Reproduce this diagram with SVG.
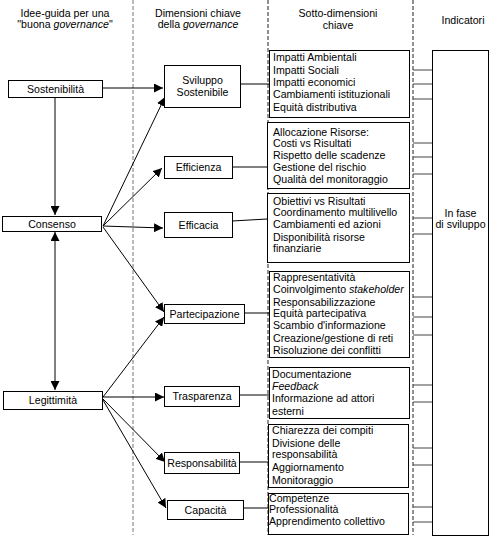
<svg xmlns="http://www.w3.org/2000/svg" width="492" height="537" viewBox="0 0 492 537">
<style>
text{font-family:"Liberation Sans",Arial,sans-serif;font-size:10.6px;fill:#000}
.c{text-anchor:middle}
.box{fill:#fff;stroke:#000;stroke-width:1}
.dash{stroke:#222;stroke-width:1;stroke-dasharray:4,2}
.con{stroke:#000;stroke-width:1;fill:none}
.ind{stroke:#444;stroke-width:1}
</style>
<defs>
<marker id="ah" viewBox="0 0 10 10" refX="10" refY="5" markerWidth="9" markerHeight="9" markerUnits="userSpaceOnUse" orient="auto-start-reverse">
<path d="M0,0 L10,5 L0,10 z" fill="#000"/>
</marker>
</defs>
<rect width="492" height="537" fill="#fff"/>
<g id="separators">
<line class="dash" x1="133" y1="0" x2="133" y2="535" stroke="#777" style="stroke:#777"/>
<line class="dash" x1="268" y1="0" x2="268" y2="535"/>
<line class="dash" x1="413" y1="0" x2="413" y2="535"/>
</g>
<g id="headers">
<text class="c" x="65" y="17">Idee-guida per una</text>
<text class="c" x="65" y="28">"buona <tspan font-style="italic">governance</tspan>"</text>
<text class="c" x="198" y="17">Dimensioni chiave</text>
<text class="c" x="198" y="28">della <tspan font-style="italic">governance</tspan></text>
<text class="c" x="338" y="17">Sotto-dimensioni</text>
<text class="c" x="338" y="29">chiave</text>
<text class="c" x="463" y="24">Indicatori</text>
</g>
<g id="connectors">
<line class="con" x1="102" y1="88" x2="163" y2="88" marker-end="url(#ah)"/>
<line class="con" x1="55" y1="97" x2="55" y2="215" marker-end="url(#ah)"/>
<line class="con" x1="55" y1="232" x2="55" y2="390" marker-start="url(#ah)" marker-end="url(#ah)"/>
<line class="con" x1="103" y1="226" x2="165" y2="97" marker-end="url(#ah)"/>
<line class="con" x1="103" y1="226" x2="162" y2="168" marker-end="url(#ah)"/>
<line class="con" x1="103" y1="226" x2="163" y2="228" marker-end="url(#ah)"/>
<line class="con" x1="103" y1="227" x2="164" y2="312" marker-end="url(#ah)"/>
<line class="con" x1="103" y1="397" x2="164" y2="317" marker-end="url(#ah)"/>
<line class="con" x1="103" y1="397" x2="164" y2="397" marker-end="url(#ah)"/>
<line class="con" x1="103" y1="399" x2="165" y2="462" marker-end="url(#ah)"/>
<line class="con" x1="103" y1="400" x2="166" y2="508" marker-end="url(#ah)"/>
<line class="con" x1="240" y1="84" x2="269" y2="84"/>
<line class="con" x1="232" y1="167" x2="267" y2="167"/>
<line class="con" x1="232" y1="221" x2="267" y2="219"/>
<line class="con" x1="244" y1="313" x2="269" y2="313"/>
<line class="con" x1="239" y1="395" x2="269" y2="395"/>
<line class="con" x1="239" y1="462" x2="268" y2="462"/>
<line class="con" x1="243" y1="508" x2="268" y2="508"/>
<line class="ind" x1="413" y1="70" x2="432" y2="70"/>
<line class="ind" x1="413" y1="84" x2="432" y2="84"/>
<line class="ind" x1="413" y1="99" x2="432" y2="99"/>
<line class="ind" x1="413" y1="143" x2="432" y2="143"/>
<line class="ind" x1="413" y1="157" x2="432" y2="157"/>
<line class="ind" x1="413" y1="174" x2="432" y2="174"/>
<line class="ind" x1="413" y1="218" x2="432" y2="218"/>
<line class="ind" x1="413" y1="234" x2="432" y2="234"/>
<line class="ind" x1="413" y1="297" x2="432" y2="297"/>
<line class="ind" x1="413" y1="317" x2="432" y2="317"/>
<line class="ind" x1="413" y1="335" x2="432" y2="335"/>
<line class="ind" x1="413" y1="385" x2="432" y2="385"/>
<line class="ind" x1="413" y1="402" x2="432" y2="402"/>
<line class="ind" x1="413" y1="448" x2="432" y2="448"/>
<line class="ind" x1="413" y1="465" x2="432" y2="465"/>
<line class="ind" x1="413" y1="507" x2="432" y2="507"/>
<line class="ind" x1="413" y1="522" x2="432" y2="522"/>
</g>
<g id="sostenibilita"><rect class="box" x="8.5" y="80.5" width="94" height="17"/><text class="c" x="55.5" y="92.5">Sostenibilità</text></g>
<g id="consenso"><rect class="box" x="2.5" y="216.5" width="99" height="15"/><text class="c" x="52" y="227.5">Consenso</text></g>
<g id="legittimita"><rect class="box" x="3.5" y="391.5" width="99" height="18"/><text class="c" x="53" y="404">Legittimità</text></g>
<g id="sviluppo"><rect class="box" x="164.5" y="65.5" width="76" height="42"/><text class="c" x="202.5" y="84">Sviluppo</text><text class="c" x="202.5" y="96">Sostenibile</text></g>
<g id="efficienza"><rect class="box" x="164.5" y="156.5" width="68" height="22"/><text class="c" x="198.5" y="170.5">Efficienza</text></g>
<g id="efficacia"><rect class="box" x="164.5" y="212.5" width="68" height="25"/><text class="c" x="198.5" y="228.5">Efficacia</text></g>
<g id="partecipazione"><rect class="box" x="164.5" y="304.5" width="80" height="19"/><text class="c" x="204.5" y="318">Partecipazione</text></g>
<g id="trasparenza"><rect class="box" x="164.5" y="386.5" width="75" height="20"/><text class="c" x="202" y="400">Trasparenza</text></g>
<g id="responsabilita"><rect class="box" x="164.5" y="452.5" width="75" height="21"/><text class="c" x="202" y="466.5">Responsabilità</text></g>
<g id="capacita"><rect class="box" x="167.5" y="500.5" width="76" height="19"/><text class="c" x="205.5" y="514">Capacità</text></g>
<g id="sub1"><rect class="box" x="269.5" y="50.5" width="140" height="67"/>
<text x="273" y="61">Impatti Ambientali</text><text x="273" y="74">Impatti Sociali</text><text x="273" y="86">Impatti economici</text><text x="273" y="98">Cambiamenti istituzionali</text><text x="273" y="111">Equità distributiva</text></g>
<g id="sub2"><rect class="box" x="267.5" y="122.5" width="142" height="66"/>
<text x="273" y="136">Allocazione Risorse:</text><text x="273" y="147">Costi vs Risultati</text><text x="273" y="159">Rispetto delle scadenze</text><text x="273" y="171">Gestione del rischio</text><text x="273" y="183">Qualità del monitoraggio</text></g>
<g id="sub3"><rect class="box" x="267.5" y="193.5" width="142" height="69"/>
<text x="273" y="205">Obiettivi vs Risultati</text><text x="273" y="216">Coordinamento multilivello</text><text x="273" y="228">Cambiamenti ed azioni</text><text x="273" y="241">Disponibilità risorse</text><text x="273" y="252">finanziarie</text></g>
<g id="sub4"><rect class="box" x="269.5" y="271.5" width="140" height="86"/>
<text x="273" y="281">Rappresentatività</text><text x="273" y="293">Coinvolgimento <tspan font-style="italic">stakeholder</tspan></text><text x="273" y="306">Responsabilizzazione</text><text x="273" y="317">Equità partecipativa</text><text x="273" y="329">Scambio d'informazione</text><text x="273" y="342">Creazione/gestione di reti</text><text x="273" y="354">Risoluzione dei conflitti</text></g>
<g id="sub5"><rect class="box" x="269.5" y="367.5" width="140" height="51"/>
<text x="272" y="378">Documentazione</text><text x="272" y="390" font-style="italic">Feedback</text><text x="272" y="402">Informazione ad attori</text><text x="272" y="415">esterni</text></g>
<g id="sub6"><rect class="box" x="268.5" y="424.5" width="140" height="63"/>
<text x="272" y="434">Chiarezza dei compiti</text><text x="272" y="447">Divisione delle</text><text x="272" y="458">responsabilità</text><text x="272" y="471">Aggiornamento</text><text x="272" y="484">Monitoraggio</text></g>
<g id="sub7"><rect class="box" x="268.5" y="493.5" width="140" height="41"/>
<text x="269" y="502">Competenze</text><text x="269" y="513">Professionalità</text><text x="269" y="525">Apprendimento collettivo</text></g>
<g id="indicatori"><rect class="box" x="432.5" y="50.5" width="56" height="485"/>
<text class="c" x="460.5" y="217">In fase</text><text class="c" x="460.5" y="228">di sviluppo</text></g>
</svg>
